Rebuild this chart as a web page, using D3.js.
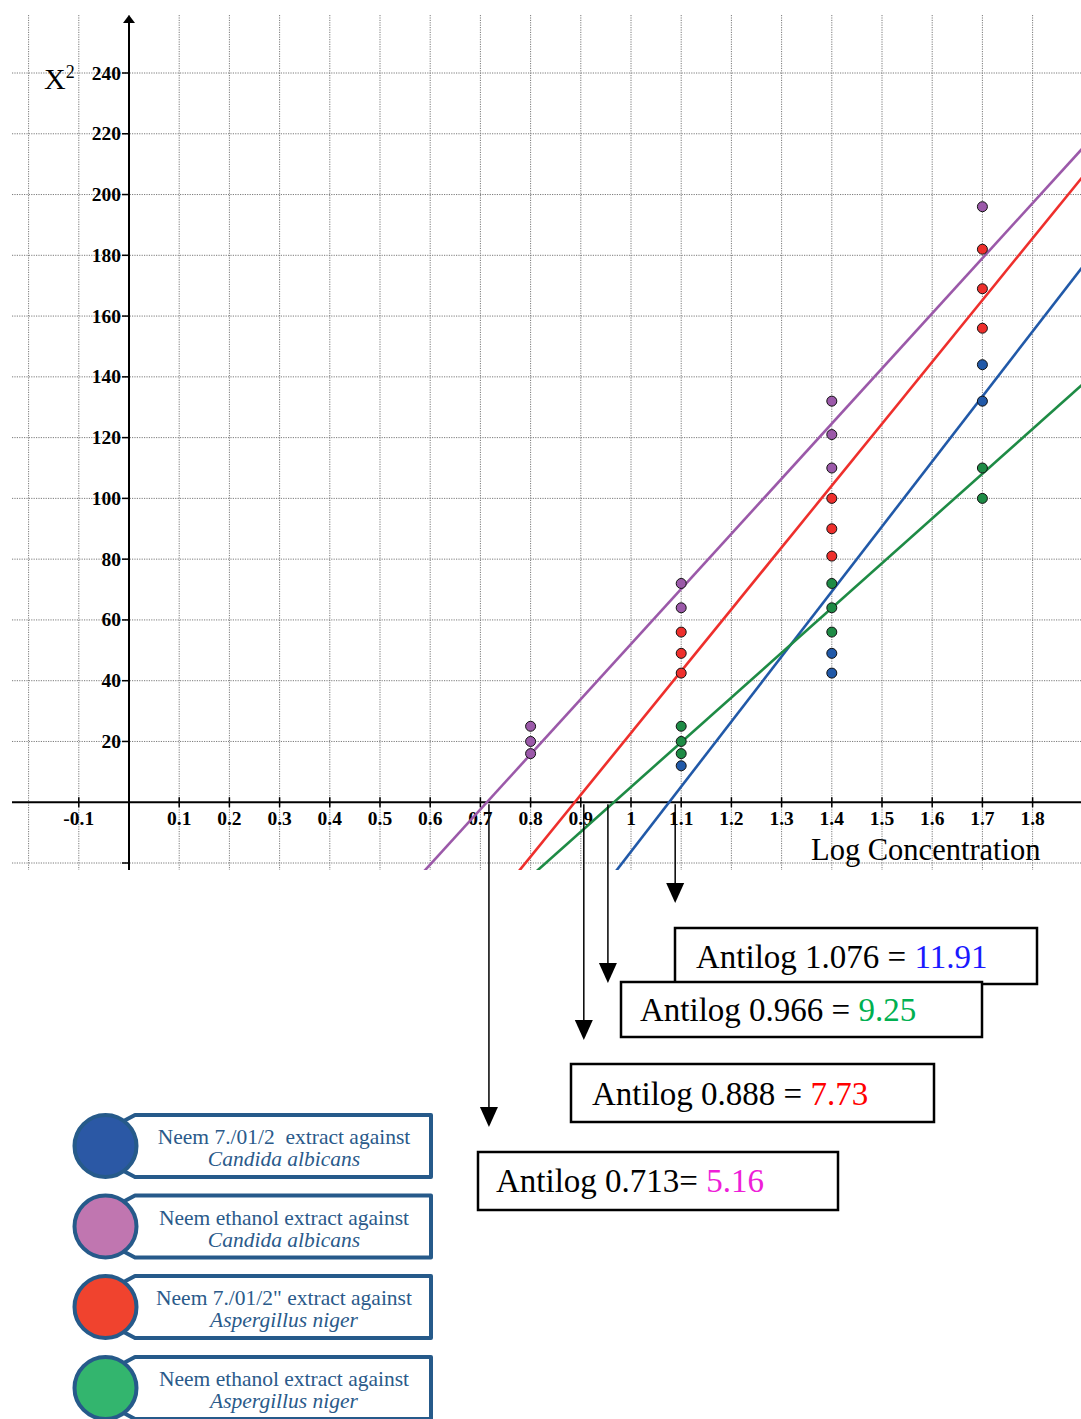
<!DOCTYPE html>
<html><head><meta charset="utf-8">
<script src="https://cdn.jsdelivr.net/npm/d3@7"></script>
<style>body{margin:0;background:#fff;overflow:hidden}</style>
</head><body>
<script>
// ---------------- DATA ----------------
const xTickLabels = [-0.1, 0.1, 0.2, 0.3, 0.4, 0.5, 0.6, 0.7, 0.8, 0.9, 1, 1.1, 1.2, 1.3, 1.4, 1.5, 1.6, 1.7, 1.8];
const yTickLabels = [20, 40, 60, 80, 100, 120, 140, 160, 180, 200, 220, 240];
const xGrid = [-0.2, -0.1, 0, 0.1, 0.2, 0.3, 0.4, 0.5, 0.6, 0.7, 0.8, 0.9, 1, 1.1, 1.2, 1.3, 1.4, 1.5, 1.6, 1.7, 1.8];
const yGrid = [-20, 20, 40, 60, 80, 100, 120, 140, 160, 180, 200, 220, 240];

const seriesKeys = ["blue", "purple", "red", "green"];
// observed points [log concentration, X2]
const bluePoints   = [[1.1, 12], [1.4, 49], [1.4, 42.5], [1.7, 144], [1.7, 132]];
const purplePoints = [[0.8, 25], [0.8, 20], [0.8, 16], [1.1, 72], [1.1, 64], [1.4, 132], [1.4, 121], [1.4, 110], [1.7, 196]];
const redPoints    = [[1.1, 56], [1.1, 49], [1.1, 42.5], [1.4, 100], [1.4, 90], [1.4, 81], [1.7, 182], [1.7, 169], [1.7, 156]];
const greenPoints  = [[1.1, 25], [1.1, 20], [1.1, 16], [1.4, 72], [1.4, 64], [1.4, 56], [1.7, 110], [1.7, 100]];
// regression lines: x-intercept (log value) and slope
const lineRoot  = {blue: 1.076, purple: 0.713, red: 0.888, green: 0.966};
const lineSlope = {blue: 214.0, purple: 181.4, red: 203.5, green: 147.3};
// antilog annotations
const antilogLog    = ["1.076", "0.966", "0.888", "0.713"];
const antilogValue  = ["11.91", "9.25", "7.73", "5.16"];
const antilogSeries = ["blue", "green", "red", "purple"];
const arrowAt       = [1.088, 0.954, 0.906, 0.717];
// legend
const legendLine1 = ["Neem 7./01/2  extract against", "Neem ethanol extract against", "Neem 7./01/2\" extract against", "Neem ethanol extract against"];
const legendLine2 = ["Candida albicans", "Candida albicans", "Aspergillus niger", "Aspergillus niger"];

// ---------------- STYLE / LAYOUT ----------------
const W = 1081, H = 1419;
const lineColor = {blue: "#2159a8", purple: "#9b59a9", red: "#ee2f2c", green: "#1e8b45"};
const textColor = {blue: "#1a1aff", green: "#00b050", red: "#ff0000", purple: "#ee1ed8"};
const legendFill = ["#2b58a5", "#c076b0", "#f0432e", "#33b56e"];
const legendStroke = "#265a8a";
const pointsBy = {blue: bluePoints, purple: purplePoints, red: redPoints, green: greenPoints};

const svg = d3.select("body").append("svg").attr("width", W).attr("height", H);

const x = d3.scaleLinear().domain([-0.2, 1.8]).range([28.6, 1032.6]);
const y = d3.scaleLinear().domain([-20, 240]).range([863, 73]);
const plot = {left: 12, right: 1081, top: 15, bottom: 870};

svg.append("defs").append("clipPath").attr("id", "clip")
  .append("rect").attr("x", plot.left).attr("y", plot.top)
  .attr("width", plot.right - plot.left).attr("height", plot.bottom - plot.top);

// grid
const grid = svg.append("g").attr("stroke", "#7a7a7a").attr("stroke-width", 1).attr("stroke-dasharray", "1.2,1.2");
grid.selectAll(".vg").data(xGrid).join("line")
  .attr("x1", d => x(d)).attr("x2", d => x(d)).attr("y1", plot.top).attr("y2", plot.bottom);
grid.selectAll(".hg").data(yGrid).join("line")
  .attr("x1", plot.left).attr("x2", plot.right).attr("y1", d => y(d)).attr("y2", d => y(d));

// axes
const ax = svg.append("g").attr("stroke", "#000").attr("stroke-width", 2);
ax.append("line").attr("x1", plot.left).attr("x2", plot.right).attr("y1", y(0)).attr("y2", y(0));
ax.append("line").attr("x1", x(0)).attr("x2", x(0)).attr("y1", plot.bottom).attr("y2", plot.top + 6);
svg.append("path").attr("d", `M${x(0)},${plot.top} L${x(0) - 6},${plot.top + 8} L${x(0) + 6},${plot.top + 8} Z`).attr("fill", "#000");

// ticks
const tk = svg.append("g").attr("stroke", "#000").attr("stroke-width", 1.5);
tk.selectAll(".xt").data(xTickLabels).join("line")
  .attr("x1", d => x(d)).attr("x2", d => x(d)).attr("y1", y(0) - 5).attr("y2", y(0) + 5);
tk.selectAll(".yt").data(yTickLabels.concat([-20])).join("line")
  .attr("x1", x(0) - 7).attr("x2", x(0)).attr("y1", d => y(d)).attr("y2", d => y(d));

const tickFont = "'Liberation Serif', 'Times New Roman', serif";
svg.append("g").selectAll("text").data(xTickLabels).join("text")
  .attr("x", d => x(d)).attr("y", y(0) + 23).attr("text-anchor", "middle")
  .attr("font-family", tickFont).attr("font-weight", "bold").attr("font-size", 19.5)
  .text(d => String(d));
svg.append("g").selectAll("text").data(yTickLabels).join("text")
  .attr("x", x(0) - 8).attr("y", d => y(d) + 6.5).attr("text-anchor", "end")
  .attr("font-family", tickFont).attr("font-weight", "bold").attr("font-size", 19.5)
  .text(d => String(d));

// axis titles
const yt = svg.append("text").attr("x", 44).attr("y", 89)
  .attr("font-family", tickFont).attr("font-size", 30);
yt.append("tspan").text("X");
yt.append("tspan").attr("font-size", 18).attr("dy", -11).text("2");
svg.append("text").attr("x", 811).attr("y", 860)
  .attr("font-family", tickFont).attr("font-size", 30.5).text("Log Concentration");

// regression lines
const lg = svg.append("g").attr("clip-path", "url(#clip)");
const xs = [-0.3, 2.0];
seriesKeys.forEach(k => {
  const pts = xs.map(v => [v, lineSlope[k] * (v - lineRoot[k])]);
  lg.append("path")
    .attr("d", d3.line().x(d => x(d[0])).y(d => y(d[1]))(pts))
    .attr("stroke", lineColor[k]).attr("stroke-width", 2.6).attr("fill", "none");
});

// points
const pg = svg.append("g");
["purple", "red", "green", "blue"].forEach(k => {
  pg.selectAll(".p" + k).data(pointsBy[k]).join("circle")
    .attr("cx", d => x(d[0])).attr("cy", d => y(d[1])).attr("r", 5)
    .attr("fill", lineColor[k]).attr("stroke", "#111").attr("stroke-width", 1);
});

// arrows
const arrowTip = [903, 983, 1040, 1127];
arrowAt.forEach((v, i) => {
  const ax0 = x(v);
  svg.append("line").attr("x1", ax0).attr("x2", ax0).attr("y1", y(0) + 2).attr("y2", arrowTip[i] - 15)
    .attr("stroke", "#000").attr("stroke-width", 1.5);
  svg.append("path").attr("d", `M${ax0 - 9},${arrowTip[i] - 20} L${ax0 + 9},${arrowTip[i] - 20} L${ax0},${arrowTip[i]} Z`)
    .attr("fill", "#000");
});

// antilog boxes
const boxes = [
  {x: 675, y: 928, w: 362, h: 56, tx: 696, by: 968},
  {x: 621, y: 982, w: 361, h: 55, tx: 640, by: 1021},
  {x: 571, y: 1064, w: 363, h: 58, tx: 592, by: 1105},
  {x: 478, y: 1152, w: 360, h: 58, tx: 496, by: 1192}
];
antilogLog.forEach((lv, i) => {
  const b = boxes[i];
  svg.append("rect").attr("x", b.x).attr("y", b.y).attr("width", b.w).attr("height", b.h)
    .attr("fill", "#fff").attr("stroke", "#000").attr("stroke-width", 2.5);
  const t = svg.append("text").attr("x", b.tx).attr("y", b.by)
    .attr("font-family", tickFont).attr("font-size", 33).attr("fill", "#000")
    .style("white-space", "pre");
  t.append("tspan").text("Antilog " + lv + (i === 3 ? "= " : " = "));
  t.append("tspan").attr("fill", textColor[antilogSeries[i]]).text(antilogValue[i]);
});

// legend
const legendCY = [1146, 1226.5, 1307, 1388];
legendLine1.forEach((l1, i) => {
  const cy = legendCY[i];
  const top = cy - 31, bot = cy + 31;
  svg.append("path")
    .attr("d", `M118,${cy - 22} L135,${top} L431,${top} L431,${bot} L135,${bot} L118,${cy + 22}`)
    .attr("fill", "#fff").attr("stroke", legendStroke).attr("stroke-width", 4).attr("stroke-linejoin", "round");
  svg.append("circle").attr("cx", 105.5).attr("cy", cy).attr("r", 31)
    .attr("fill", legendFill[i]).attr("stroke", legendStroke).attr("stroke-width", 4);
  svg.append("text").attr("x", 284).attr("y", cy - 2).attr("text-anchor", "middle")
    .attr("font-family", tickFont).attr("font-size", 21.5).attr("fill", "#2a5a8a")
    .style("white-space", "pre").text(l1);
  svg.append("text").attr("x", 284).attr("y", cy + 20).attr("text-anchor", "middle")
    .attr("font-family", tickFont).attr("font-size", 21.5).attr("font-style", "italic").attr("fill", "#2a5a8a")
    .text(legendLine2[i]);
});
</script>
</body></html>
